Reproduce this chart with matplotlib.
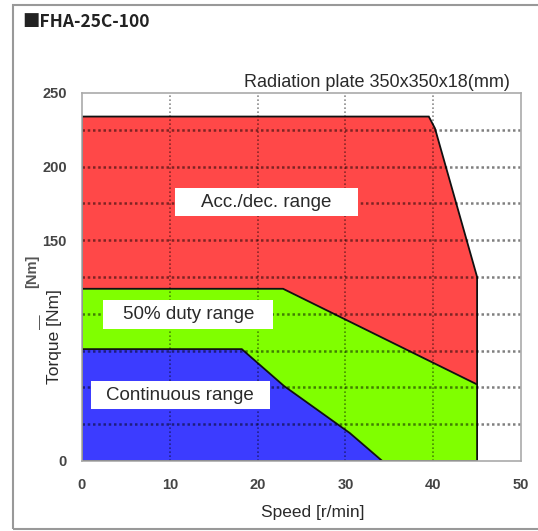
import matplotlib.pyplot as plt
from matplotlib.patches import Polygon, Rectangle
import numpy as np

W, H = 538, 531

# operating regions (speed r/min, torque Nm)
accdec_speed = [0, 0, 39.5, 40.2, 45, 45]
accdec_torque = [0, 234, 234, 226, 125, 0]
duty50_speed = [0, 0, 22.9, 45, 45]
duty50_torque = [0, 117, 117, 52, 0]
cont_speed = [0, 0, 18.2, 23, 30.5, 34.2]
cont_torque = [0, 76, 76, 51, 19, 0]

region_colors = ['#ff4848', '#80ff00', '#3c3cff']
labels = ['Acc./dec. range', '50% duty range', 'Continuous range']
# label boxes: x0, x1, y0, y1 in data units
label_boxes = [(10.6, 31.4, 166.4, 185.5), (2.4, 21.8, 89.7, 109.4), (1.0, 21.4, 35.3, 54.3)]

xticks = [0, 10, 20, 30, 40, 50]
ygrid = list(range(0, 251, 25))
ylabeled = [0, 150, 200, 250]

def fx(px):
    return px / W

def fy(py):
    return 1 - py / H

fig = plt.figure(figsize=(W / 100, H / 100), dpi=100)
plt.rcParams['font.family'] = ['Liberation Sans', 'DejaVu Sans']

# outer frame
fig.patches.append(Rectangle((fx(13), fy(529)), 1.2, fy(5) - fy(529), transform=fig.transFigure,
                             fill=False, edgecolor='#999999', linewidth=1.5))

ax = fig.add_axes([fx(82), fy(461), fx(521) - fx(82), fy(93) - fy(461)])
ax.set_xlim(0, 50)
ax.set_ylim(0, 250)

for sx, ty, c in zip([accdec_speed, duty50_speed, cont_speed],
                     [accdec_torque, duty50_torque, cont_torque], region_colors):
    ax.add_patch(Polygon(np.column_stack([sx, ty]), closed=True, facecolor=c,
                         edgecolor='#111111', linewidth=1.3, zorder=1))

for y in ygrid[1:-1]:
    ax.axhline(y, color='black', alpha=0.5, linewidth=1.8, linestyle=(0, (1, 1.1)), zorder=2)
for x in xticks[1:-1]:
    ax.axvline(x, color='black', alpha=0.45, linewidth=1.2, linestyle=(0, (1, 1.4)), zorder=2)

for (x0, x1, y0, y1), lab in zip(label_boxes, labels):
    ax.add_patch(Rectangle((x0, y0), x1 - x0, y1 - y0, facecolor='white', edgecolor='none', zorder=3))
    ax.text((x0 + x1) / 2, (y0 + y1) / 2, lab, ha='center', va='center', fontsize=13.5,
            color='#2a2a2a', zorder=4)

ax.set_xticks(xticks)
ax.set_yticks(ygrid)
ax.set_yticklabels([str(v) if v in ylabeled else '' for v in ygrid])
ax.tick_params(length=0, labelsize=10.5, colors='#444444')
ax.tick_params(axis='x', pad=12)
ax.tick_params(axis='y', pad=11)
for lab in ax.get_xticklabels() + ax.get_yticklabels():
    lab.set_fontweight('bold')
for s in ax.spines.values():
    s.set_color('#aaaaaa')
    s.set_linewidth(1.2)

fig.text(fx(22), fy(22), '■FHA-25C-100', ha='left', va='center', fontsize=12.5,
         fontweight='bold', family=['Noto Sans CJK JP', 'DejaVu Sans'], color='#222222')
fig.text(fx(510), fy(82), 'Radiation plate 350x350x18(mm)', ha='right', va='center',
         fontsize=13, color='#2a2a2a')
fig.text(fx(313), fy(513), 'Speed [r/min]', ha='center', va='center', fontsize=12.5, color='#2a2a2a')
fig.text(fx(55), fy(337), 'Torque [Nm]', ha='center', va='center', rotation=90,
         fontsize=12.5, color='#2a2a2a')
fig.text(fx(32), fy(271), '[Nm]', ha='center', va='center', rotation=90,
         fontsize=10.5, fontweight='bold', color='#555555')
fig.text(fx(40), fy(322), '—', ha='center', va='center', rotation=90,
         fontsize=10.5, color='#555555')

fig.savefig('out.png', dpi=100)
